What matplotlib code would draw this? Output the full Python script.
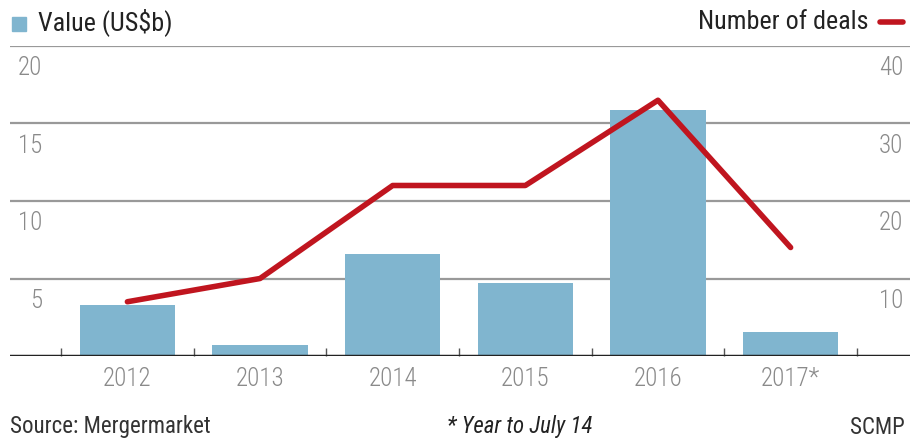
import matplotlib.pyplot as plt
import matplotlib.transforms as mtransforms

plt.rcParams['font.family'] = ['Roboto Condensed', 'Roboto', 'DejaVu Sans']

years = ['2012', '2013', '2014', '2015', '2016', '2017*']
value = [3.3, 0.7, 6.6, 4.7, 15.9, 1.55]   # US$b
deals = [7, 10, 22, 22, 33, 14]
left_ticks = [5, 10, 15, 20]
right_ticks = [10, 20, 30, 40]

bar_color = '#80b5cf'
line_color = '#c0151f'
grid_color = '#999999'
label_color = '#8a8a8a'

fig = plt.figure(figsize=(9.13, 4.41), dpi=100)
ax = fig.add_axes([10/913, 85/441, 900/913, 310/441])
ax2 = ax.twinx()

x = list(range(len(years)))
ax.bar(x, value, width=0.72, color=bar_color, zorder=2)
ax2.plot(x, deals, color=line_color, lw=4, solid_capstyle='round', zorder=3)

ax.set_xlim(-0.885, 5.9)
ax.set_ylim(0, 20)
ax2.set_ylim(0, 40)

for a in (ax, ax2):
    for s in a.spines.values():
        s.set_visible(False)
    a.set_yticks([])
    a.tick_params(length=0)
ax2.set_zorder(ax.get_zorder() + 1)
ax2.patch.set_visible(False)

# gridlines
for v in left_ticks:
    ax.axhline(v, color=grid_color, lw=1.6, zorder=1)
ax.axhline(0, color='#222222', lw=2.5, zorder=4)

# left / right value labels sit under each gridline
off = mtransforms.offset_copy(ax.transData, fig=fig, x=0, y=-16, units='points')
for v in left_ticks:
    ax.text(-0.5 - 19/133, v, str(v), transform=off, ha='right', va='center',
            fontsize=18, color=label_color, fontweight='light')
off2 = mtransforms.offset_copy(ax2.transData, fig=fig, x=0, y=-16, units='points')
for v in right_ticks:
    ax2.text(5.85, v, str(v), transform=off2, ha='right', va='center',
             fontsize=18, color=label_color, fontweight='light')

# category ticks between bars
ax.set_xticks([i - 0.5 for i in range(len(years) + 1)])
ax.set_xticklabels([])
ax.tick_params(axis='x', length=6, width=1, color='#555555', direction='in')
for i, yr in enumerate(years):
    ax.text(i, -1.5, yr, ha='center', va='center', fontsize=18,
            color=label_color, fontweight='light')

# legend headers
fig.patches.append(plt.Rectangle((12/913, 1 - 31/441), 14/913, 14/441,
                                 transform=fig.transFigure, color=bar_color))
fig.text(38/913, 1 - 22/441, 'Value (US$b)', ha='left', va='center',
         fontsize=18.8, color='#222222')
fig.text(868/913, 1 - 22/441, 'Number of deals', ha='right', va='center',
         fontsize=18.8, color='#222222')
fig.add_artist(plt.Line2D([880/913, 903/913], [1 - 22/441, 1 - 22/441],
                          transform=fig.transFigure, color=line_color, lw=4,
                          solid_capstyle='round'))

# footer
fig.text(10/913, 1 - 427/441, 'Source: Mergermarket', ha='left', va='center',
         fontsize=16.5, color='#333333')
fig.text(520/913, 1 - 427/441, '* Year to July 14', ha='center', va='center',
         fontsize=16.5, color='#222222', style='italic')
fig.text(905/913, 1 - 427/441, 'SCMP', ha='right', va='center',
         fontsize=16.5, color='#333333')

fig.savefig('out.png', dpi=100)
